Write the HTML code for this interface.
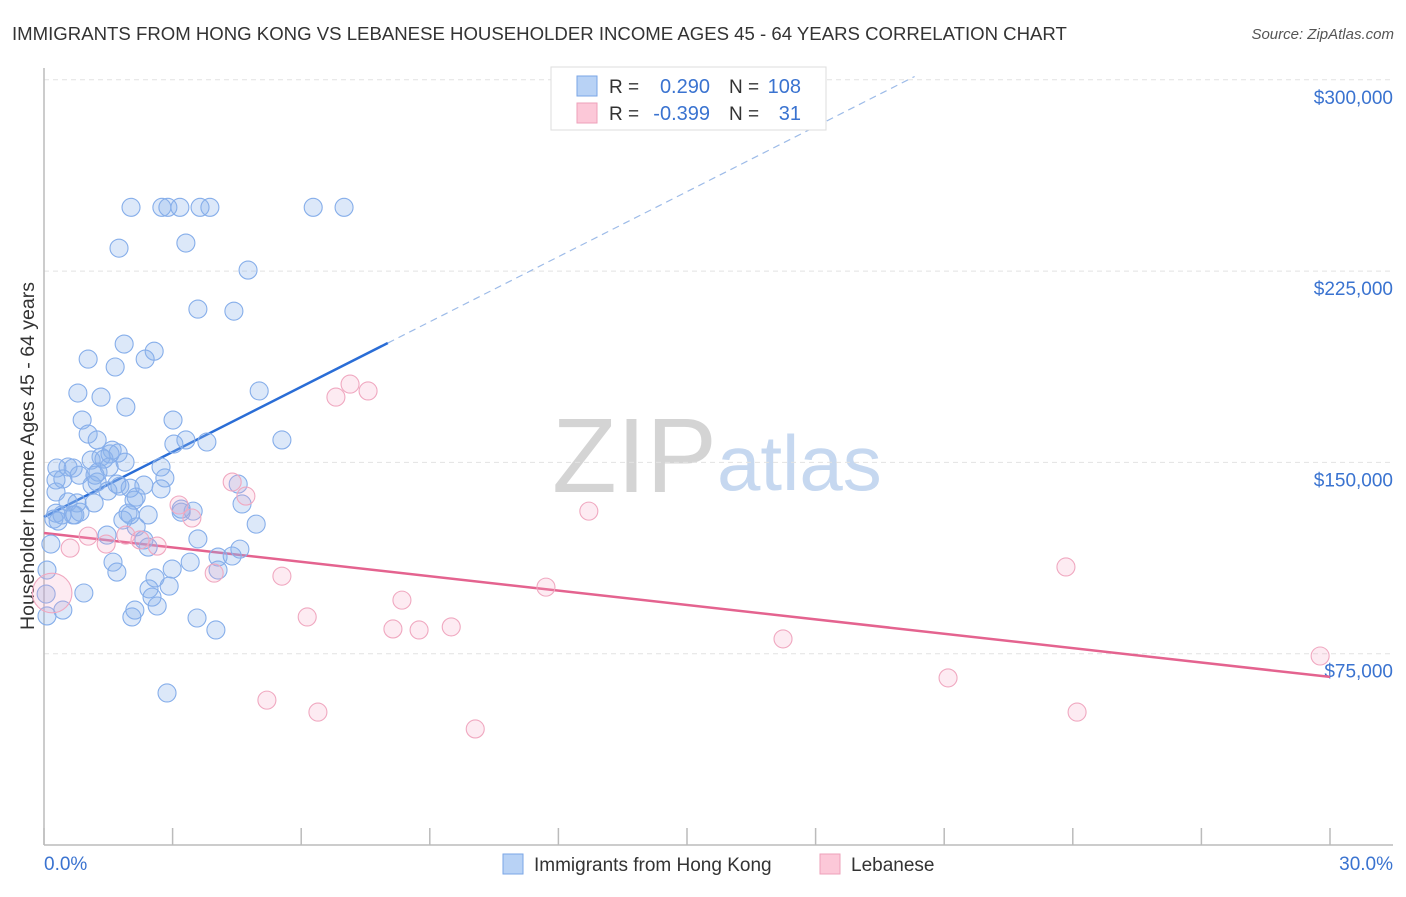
<!DOCTYPE html>
<html><head><meta charset="utf-8"><style>
body{margin:0;background:#fff;font-family:"Liberation Sans",sans-serif}
svg text{font-family:"Liberation Sans",sans-serif}
</style></head><body>
<svg id="c" width="1406" height="892" viewBox="0 0 1406 892">
<text x="12" y="40" font-size="18.6" fill="#333">IMMIGRANTS FROM HONG KONG VS LEBANESE HOUSEHOLDER INCOME AGES 45 - 64 YEARS CORRELATION CHART</text>
<text x="1394" y="39" font-size="15" fill="#555" font-style="italic" text-anchor="end">Source: ZipAtlas.com</text>
<text transform="translate(34,456) rotate(-90)" font-size="19.5" fill="#333" text-anchor="middle">Householder Income Ages 45 - 64 years</text>
<g>
<text x="552" y="492" font-size="106" fill="#d4d4d4" font-family="Liberation Serif,serif">ZIP</text>
<text x="717" y="490" font-size="78" fill="#c6d8f0">atlas</text>
</g>
<g id="grid"></g><g id="axes"></g><g id="lines"></g><g id="pts"></g>
<g>
<rect x="551" y="67" width="275" height="63" fill="#fff" stroke="#ddd"/>
<rect x="577" y="76" width="20" height="20" fill="#b8d2f5" stroke="#7aa6e6"/>
<rect x="577" y="103" width="20" height="20" fill="#fcc8d8" stroke="#eea0ba"/>
<text x="609" y="93" font-size="19" fill="#333">R =</text>
<text x="710" y="93" font-size="20" fill="#3a73d0" text-anchor="end">0.290</text>
<text x="729" y="93" font-size="19" fill="#333">N =</text>
<text x="801" y="93" font-size="20" fill="#3a73d0" text-anchor="end">108</text>
<text x="609" y="120" font-size="19" fill="#333">R =</text>
<text x="710" y="120" font-size="20" fill="#3a73d0" text-anchor="end">-0.399</text>
<text x="729" y="120" font-size="19" fill="#333">N =</text>
<text x="801" y="120" font-size="20" fill="#3a73d0" text-anchor="end">31</text>
</g>
<g>
<rect x="503" y="854" width="20" height="20" fill="#b8d2f5" stroke="#7aa6e6"/>
<text x="534" y="871" font-size="19" fill="#333">Immigrants from Hong Kong</text>
<rect x="820" y="854" width="20" height="20" fill="#fcc8d8" stroke="#eea0ba"/>
<text x="851" y="871" font-size="19" fill="#333">Lebanese</text>
</g>
</svg>
<script>
const yTicks=[75000,150000,225000,300000];
const yTickLabels=["$75,000","$150,000","$225,000","$300,000"];
const xTickLabels=["0.0%","30.0%"];
const blueX=[2.03,2.75,2.89,3.17,3.64,3.87,6.28,7.00,1.75,3.31,4.76,3.59,4.43,1.87,2.57,1.03,2.36,1.66,5.02,0.79,1.33,1.91,3.01,0.89,1.03,5.55,1.24,3.31,3.80,3.03,1.59,1.73,1.33,1.10,1.40,0.56,0.68,2.73,0.82,2.82,0.28,0.44,1.24,1.12,1.77,4.53,2.73,0.28,1.49,2.15,0.56,2.10,0.77,1.17,4.62,0.28,3.48,3.20,2.43,0.68,1.96,0.42,0.72,0.23,0.33,4.95,2.15,1.47,2.33,3.59,2.01,0.16,4.57,4.06,4.39,3.41,1.61,2.99,4.06,1.70,2.59,2.45,0.07,2.92,0.93,2.52,2.12,2.64,0.05,0.44,2.05,3.57,0.07,4.01,2.87,1.52,1.26,2.01,1.70,1.89,1.54,2.43,3.20,2.33,1.84,0.30,0.84,1.19];
const blueY=[250000,250000,250000,250000,250000,250000,250000,250000,234000,236000,225400,210100,209300,196400,193600,190500,190500,187400,178000,177200,175600,171700,166600,166600,161100,158800,158800,158800,158000,157200,154800,153700,152100,150900,151300,148200,147800,148200,145000,143900,143100,143500,142300,141100,140700,141500,139600,138400,138800,136400,134500,135200,134100,134100,133700,130100,130900,130500,129400,129400,130100,129400,129400,127800,127000,125800,124700,121500,119600,120000,129400,118000,116000,112900,113300,110900,110900,108200,107800,107000,104700,100400,107800,101500,98800,97200,92100,93700,98400,92100,89400,89000,89800,84300,59600,148200,146200,139900,141500,150100,153300,116800,131700,141100,127400,147800,130500,145000];
const pinkX=[0.19,0.61,1.03,1.45,1.91,2.24,2.64,3.15,3.45,4.39,4.71,3.97,5.55,5.20,6.14,6.39,6.81,7.14,7.56,8.14,8.35,8.75,9.50,10.06,11.71,12.71,17.24,21.09,23.84,24.10,29.77];
const pinkY=[98800,116400,121100,118000,121500,119600,117200,133300,128200,142300,136800,106600,105400,56800,89400,52100,175600,180700,178000,84700,96000,84300,85500,45500,101100,130900,80800,65500,109000,52100,74100];
const pinkSize=[2.2,1,1,1,1,1,1,1,1,1,1,1,1,1,1,1,1,1,1,1,1,1,1,1,1,1,1,1,1,1,1];
const blueLine=[0,128600,8.02,196800];
const blueDash=[8.02,196800,20.31,301300];
const pinkLine=[0,122300,30,65900];
const L=44,R=1393,X30=1330,B=845;
const sx=v=>L+v/30*(X30-L);
const sy=v=>B-v/75000*191.3;
const NS="http://www.w3.org/2000/svg";
function mk(tag,attrs,parent){const e=document.createElementNS(NS,tag);for(const k in attrs)e.setAttribute(k,attrs[k]);document.getElementById(parent).appendChild(e);return e;}
yTicks.forEach((t,i)=>{
 const g=mk('line',{x1:L,x2:R,y1:sy(t),y2:sy(t),stroke:'#e2e2e2','stroke-dasharray':'5,4'},'grid');
 
 
 const tx=mk('text',{x:R,y:sy(t)+24,'font-size':19,fill:'#3a73d0','text-anchor':'end'},'grid');
 tx.textContent=yTickLabels[i];
 
 
});
const ya=mk('line',{x1:L,x2:L,y1:68,y2:B,stroke:'#bbb','stroke-width':1.5},'axes');


const xa=mk('line',{x1:L,x2:R,y1:B,y2:B,stroke:'#bbb','stroke-width':1.5},'axes');


for(let i=0;i<=10;i++){
 const t=mk('line',{x1:sx(i*3),x2:sx(i*3),y1:828,y2:B,stroke:'#bbb','stroke-width':1.5},'axes');
 
 
}
const xl0=mk('text',{x:L,y:870,'font-size':19,fill:'#3a73d0'},'axes');xl0.textContent=xTickLabels[0];


const xl1=mk('text',{x:R,y:870,'font-size':19,fill:'#3a73d0','text-anchor':'end'},'axes');xl1.textContent=xTickLabels[1];


blueX.forEach((x,i)=>{
 const c=mk('circle',{cx:sx(x),cy:sy(blueY[i]),r:9,fill:'rgba(140,180,235,0.3)',stroke:'#86aeea','stroke-width':1.1},'pts');
 
 
});
pinkX.forEach((x,i)=>{
 const c=mk('circle',{cx:sx(x),cy:sy(pinkY[i]),r:9*pinkSize[i],fill:'rgba(245,165,195,0.22)',stroke:'#f0a8c0','stroke-width':1.1},'pts');
 
 
});
const bl=mk('line',{x1:sx(blueLine[0]),y1:sy(blueLine[1]),x2:sx(blueLine[2]),y2:sy(blueLine[3]),stroke:'#2a6dd6','stroke-width':2.5},'lines');


const bd=mk('line',{x1:sx(blueDash[0]),y1:sy(blueDash[1]),x2:sx(blueDash[2]),y2:sy(blueDash[3]),stroke:'#9dbbe8','stroke-width':1.2,'stroke-dasharray':'7,5'},'lines');


const pl=mk('line',{x1:sx(pinkLine[0]),y1:sy(pinkLine[1]),x2:sx(pinkLine[2]),y2:sy(pinkLine[3]),stroke:'#e4638f','stroke-width':2.5},'lines');


</script>
</body></html>
